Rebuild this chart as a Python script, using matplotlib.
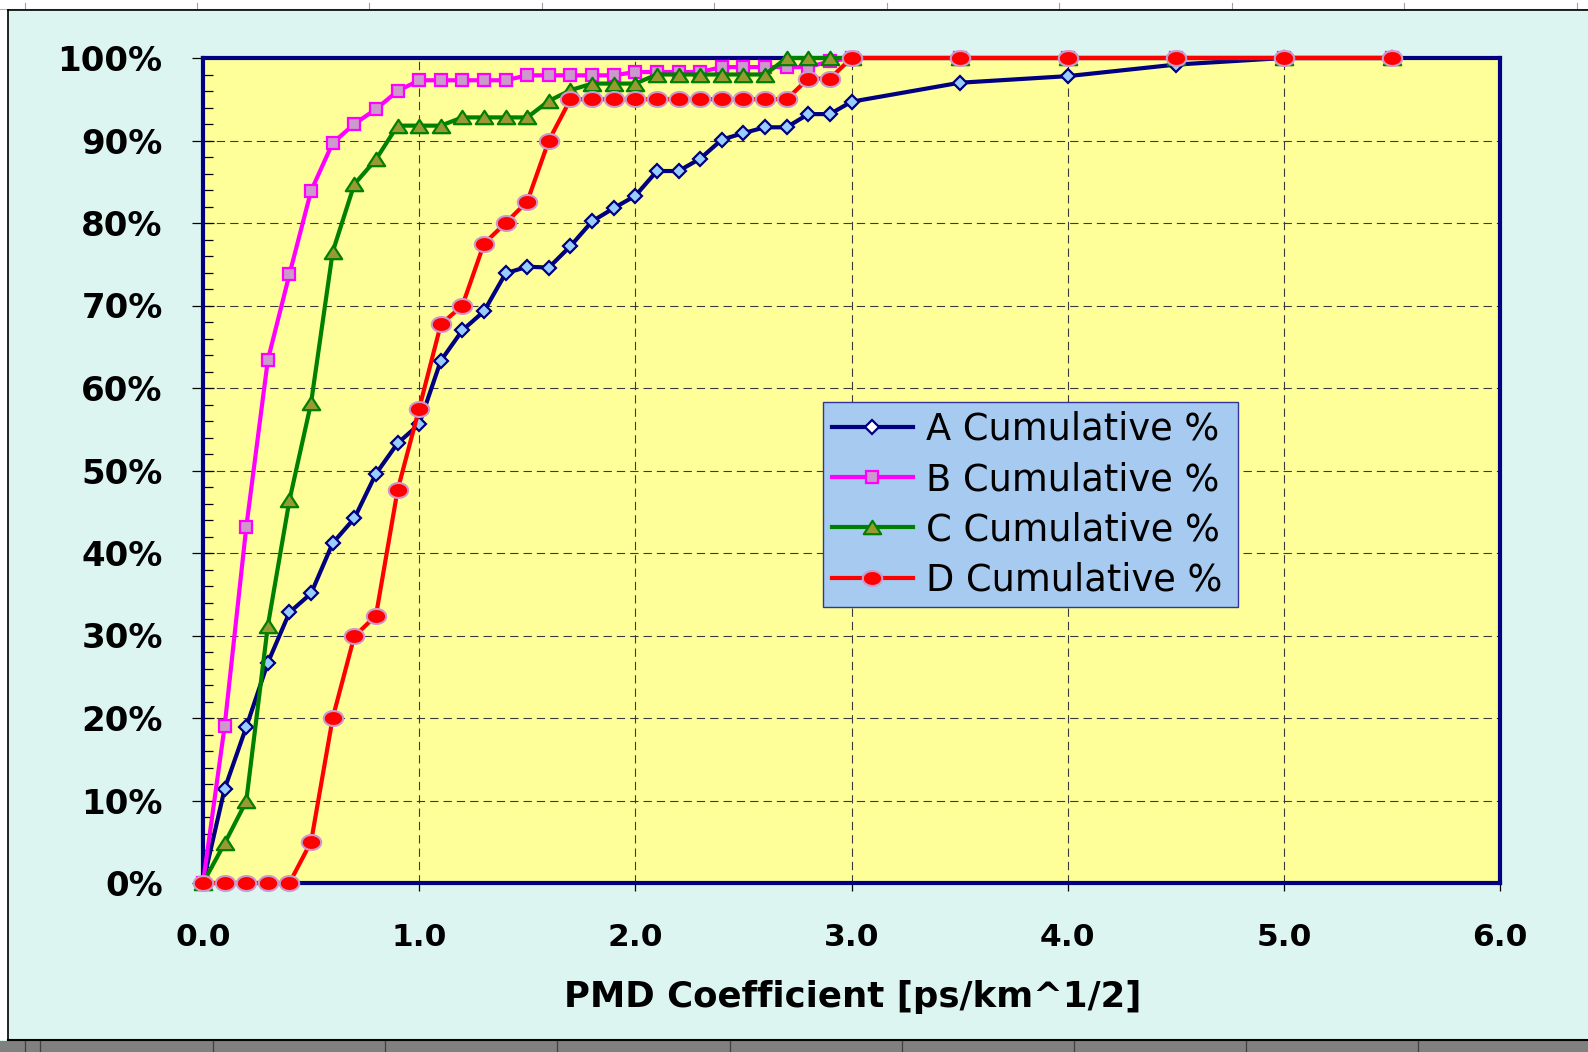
import matplotlib
matplotlib.use("Agg")
import matplotlib.pyplot as plt
import numpy as np
from matplotlib.path import Path
from matplotlib.patches import Rectangle
from matplotlib.lines import Line2D
from matplotlib.ticker import MultipleLocator, FuncFormatter

# ---------------- data ----------------
pmd = [0.0, 0.1, 0.2, 0.3, 0.4, 0.5, 0.6, 0.7, 0.8, 0.9,
       1.0, 1.1, 1.2, 1.3, 1.4, 1.5, 1.6, 1.7, 1.8, 1.9,
       2.0, 2.1, 2.2, 2.3, 2.4, 2.5, 2.6, 2.7, 2.8, 2.9,
       3.0, 3.5, 4.0, 4.5, 5.0, 5.5]

a_cum = [0, 11.4, 18.9, 26.7, 32.8, 35.1, 41.2, 44.2, 49.6, 53.3,
         55.6, 63.3, 67.0, 69.3, 73.9, 74.7, 74.6, 77.2, 80.2, 81.8,
         83.3, 86.3, 86.3, 87.8, 90.1, 90.9, 91.6, 91.6, 93.2, 93.2,
         94.7, 97.0, 97.8, 99.2, 100, 100]

b_cum = [0, 19.0, 43.1, 63.4, 73.8, 83.9, 89.7, 92.0, 93.8, 96.0,
         97.3, 97.3, 97.3, 97.3, 97.3, 97.9, 97.9, 97.9, 97.9, 97.9,
         98.3, 98.3, 98.3, 98.3, 98.9, 98.9, 98.9, 98.9, 98.9, 99.6,
         100, 100, 100, 100, 100, 100]

c_cum = [0, 4.8, 9.9, 31.2, 46.4, 58.2, 76.5, 84.7, 87.7, 91.8,
         91.8, 91.8, 92.8, 92.8, 92.8, 92.8, 94.8, 96.1, 96.9, 96.9,
         96.9, 98.0, 98.0, 98.0, 98.0, 98.0, 98.0, 100, 100, 100,
         100, 100, 100, 100, 100, 100]

d_cum = [0, 0, 0, 0, 0, 5.0, 20.0, 29.9, 32.4, 47.6,
         57.5, 67.7, 70.0, 77.5, 80.0, 82.6, 90.0, 95.0, 95.0, 95.0,
         95.0, 95.0, 95.0, 95.0, 95.0, 95.0, 95.0, 95.0, 97.5, 97.5,
         100, 100, 100, 100, 100, 100]

series_labels = ["A Cumulative %", "B Cumulative %", "C Cumulative %", "D Cumulative %"]
x_ticks = [0.0, 1.0, 2.0, 3.0, 4.0, 5.0, 6.0]
y_ticks = [0, 10, 20, 30, 40, 50, 60, 70, 80, 90, 100]
x_title = "PMD Coefficient [ps/km^1/2]"

# ---------------- style ----------------
plt.rcParams['font.family'] = ['DejaVu Sans']
plt.rcParams['lines.scale_dashes'] = False
plt.rcParams['ytick.direction'] = 'in'
plt.rcParams['ytick.minor.size'] = 7
plt.rcParams['ytick.minor.width'] = 0.9

W, H = 1588, 1052
DPI = 100
fig = plt.figure(figsize=(W / DPI, H / DPI), dpi=DPI)
CYAN = "#DCF5F1"
fig.patch.set_facecolor(CYAN)

def frect(x0, y0, x1, y1, **kw):
    r = Rectangle((x0 / W, 1 - y1 / H), (x1 - x0) / W, (y1 - y0) / H,
                  transform=fig.transFigure, **kw)
    fig.add_artist(r)

def fline(xs, ys, **kw):
    l = Line2D([x / W for x in xs], [1 - y / H for y in ys],
               transform=fig.transFigure, **kw)
    fig.add_artist(l)

# spreadsheet surroundings
frect(0, 0, W, 10, facecolor="white", edgecolor="none")
frect(0, 0, 8, 1040, facecolor="white", edgecolor="none")
fline([0, W], [9, 9], color="#B0B0B0", lw=0.8)
for tx in [25, 197, 369, 542, 714, 887, 1059, 1232, 1404, 1577]:
    fline([tx, tx], [3, 9], color="#A0A0A0", lw=0.8)
frect(0, 1041, W, H, facecolor="#808080", edgecolor="none")
for tx in [25, 40, 213, 385, 557, 730, 902, 1074, 1246, 1418]:
    fline([tx, tx], [1041, H], color="#404040", lw=0.9)
fline([8, W], [10, 10], color="black", lw=1.2)
fline([8, 8], [10, 1040], color="black", lw=1.2)
fline([8, W], [1040, 1040], color="black", lw=1.5)

# axes
left, right, top, bottom = 203, 1500, 58, 883
ax = fig.add_axes([left / W, 1 - bottom / H, (right - left) / W, (bottom - top) / H])
ax.set_facecolor("#FFFF99")
ax.set_xlim(0, 6)
ax.set_ylim(0, 100)
ax.set_xticks(x_ticks)
ax.set_yticks(y_ticks)
ax.xaxis.set_major_formatter(FuncFormatter(lambda v, p: f"{v:.1f}"))
ax.yaxis.set_major_formatter(FuncFormatter(lambda v, p: f"{v:.0f}%"))
ax.yaxis.set_minor_locator(MultipleLocator(2))

ax.set_axisbelow(True)
ax.grid(True, which="major", color="#3A3A3A", linestyle=(0, (6, 3.6)), linewidth=0.8)

for s in ax.spines.values():
    s.set_color("#000080")
    s.set_linewidth(3)

ax.tick_params(axis="y", which="major", direction="inout", length=16, width=0.9,
               color="black", pad=21, labelsize=24.5)
ax.tick_params(axis="y", which="minor", direction="in", length=7, width=0.9, color="black")
ax.tick_params(axis="x", which="major", direction="out", length=6, width=0.9,
               color="black", pad=23, labelsize=22.5)
for lab in ax.get_xticklabels() + ax.get_yticklabels():
    lab.set_fontweight("bold")

ax.set_xlabel(x_title, fontsize=25.6, fontweight="bold", va="top")
ax.xaxis.set_label_coords(0.501, -0.118)

# custom markers
tri_path = Path([(-1.3, -1), (1.3, -1), (0, 1), (-1.3, -1)],
                [Path.MOVETO, Path.LINETO, Path.LINETO, Path.CLOSEPOLY])
th = np.linspace(0, 2 * np.pi, 60)
ell_verts = np.column_stack([1.3 * np.cos(th), np.sin(th)])
ell_path = Path(ell_verts, closed=True)

styles = [
    dict(color="#000080", marker="D", ms=7, mfc="#99CCFF", mec="#000080", mew=1.6),
    dict(color="#FF00FF", marker="s", ms=8.5, mfc="#CC99CC", mec="#FF00FF", mew=1.6),
    dict(color="#008000", marker=tri_path, ms=12.5, mfc="#999933", mec="#008000", mew=1.6),
    dict(color="#FF0000", marker=ell_path, ms=14, mfc="#FF0000", mec="#CC99CC", mew=1.5),
]
data = [a_cum, b_cum, c_cum, d_cum]
for vals, st in zip(data, styles):
    ax.plot(pmd, vals, lw=3, clip_on=False, zorder=3, **st)

# legend with custom handles
handles = []
for i, st in enumerate(styles):
    st2 = dict(st)
    if i == 0:
        st2["mfc"] = "white"
    handles.append(Line2D([], [], lw=3, **st2))

leg = fig.legend(handles, series_labels, loc="upper left",
                 bbox_to_anchor=(823 / W, 1 - 403 / H, (1238 - 823) / W, 0.001),
                 mode="expand", borderaxespad=0, fontsize=26.5,
                 handlelength=2.2, handletextpad=0.35, labelspacing=0.36,
                 borderpad=0.24, fancybox=False, framealpha=1)
leg.get_frame().set_facecolor("#A6CAF0")
leg.get_frame().set_edgecolor("#333399")
leg.get_frame().set_linewidth(1.0)

fig.savefig("out.png", dpi=DPI, facecolor=fig.get_facecolor())
